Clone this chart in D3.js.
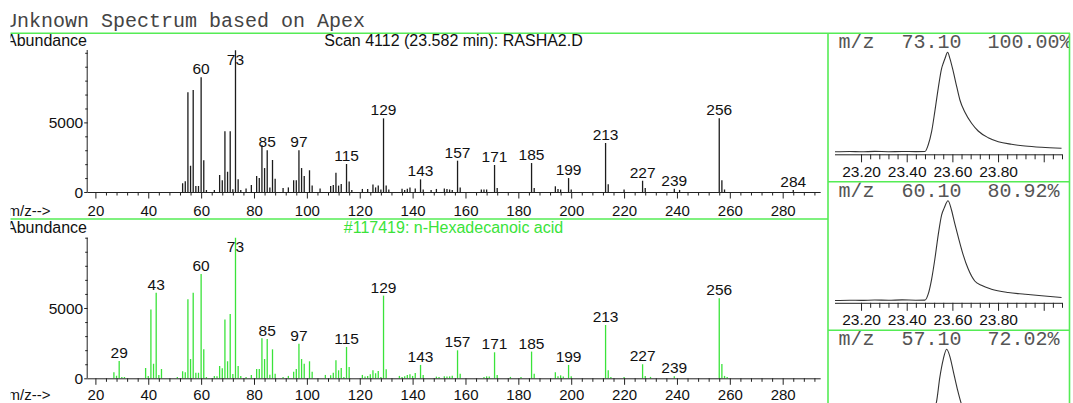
<!DOCTYPE html>
<html><head><meta charset="utf-8">
<script src="https://cdn.jsdelivr.net/npm/d3@7"></script>
<style>
html,body{margin:0;padding:0;background:#fff;overflow:hidden}
svg{display:block}
</style></head><body>
<svg id="c" width="1073" height="403"></svg>
<script>
// ---- Scan 4112 spectrum (m/z, abundance) ----
const scanMz = [53,54,55,56,57,58,59,60,61,62,65,67,68,69,70,71,72,73,74,75,77,79,81,82,83,84,85,86,87,88,91,93,95,96,97,98,99,101,102,105,109,110,111,112,113,115,116,117,121,123,125,126,127,128,129,130,131,136,137,138,139,141,143,144,147,149,152,153,154,155,157,158,166,167,168,171,172,185,186,194,195,196,199,200,213,214,220,227,228,239,241,256,257,258,284];
const scanAb = [625,770,7160,1890,7330,430,430,8240,2280,150,150,1220,840,4360,1460,4360,200,10180,910,150,260,500,1150,1000,3380,1720,2990,330,2300,960,290,330,840,840,2990,1720,1150,1560,460,260,430,500,1390,460,570,2010,750,150,220,220,540,330,460,180,5290,460,180,240,150,240,330,250,910,180,150,220,260,220,180,150,2250,330,180,180,180,1940,290,2080,290,410,220,180,1000,180,3520,550,180,810,290,240,150,5290,840,180,150];
const scanLabels = [60,73,85,97,115,129,143,157,171,185,199,213,227,239,256,284];

// ---- Library spectrum #117419 (m/z, abundance) ----
const libMz = [27,28,29,30,31,39,40,41,42,43,44,45,51,53,54,55,56,57,58,59,60,61,62,65,66,67,68,69,70,71,72,73,74,75,77,79,81,82,83,84,85,86,87,88,91,93,95,96,97,98,99,101,102,107,109,110,111,112,113,114,115,116,121,122,123,124,125,126,127,128,129,130,135,136,137,138,139,140,141,143,144,149,150,152,153,154,155,157,158,167,168,169,171,172,177,181,185,186,194,195,196,197,199,200,213,214,215,220,227,228,230,239,256,257,258,259];
const libAb = [430,190,1230,100,100,730,170,4900,1040,6090,240,660,100,500,430,5620,1370,6090,400,400,7420,2060,100,170,140,880,710,4190,1210,4570,310,9999,880,170,100,240,660,660,2840,1370,2800,260,2060,330,100,170,470,660,2460,1370,1040,1210,470,240,210,400,1280,570,730,100,2230,800,240,120,170,280,570,360,520,100,5880,640,170,100,140,240,280,170,380,950,240,120,100,140,120,140,190,1990,330,100,140,120,1850,240,100,100,1900,330,430,140,210,120,950,140,3790,570,100,100,1000,170,100,140,5690,1020,170,100];
const libLabels = [29,43,60,73,85,97,115,129,143,157,171,185,199,213,227,239,256];

// ---- axis ticks ----
const mzTicks = d3.range(20, 293, 4);
const mzLabelTicks = [20,40,60,80,100,120,140,160,180,200,220,240,260,280];
const abTicks = d3.range(0, 10001, 1000);
const abLabelTicks = [0, 5000];

// ---- extracted ion traces (retention time in min, relative response) ----
const ticIons = ["73.10", "60.10", "57.10"];
const ticPercents = ["100.00%", "80.92%", "72.02%"];
const tic73Time = [23.086,23.15,23.20,23.26,23.32,23.38,23.44,23.480,23.494,23.509,23.523,23.538,23.553,23.560,23.568,23.579,23.589,23.604,23.619,23.633,23.655,23.684,23.713,23.757,23.801,23.859,23.918,23.991,24.078];
const tic73Val  = [0.5,0.8,0.5,0.9,0.6,0.8,0.7,0.8,7.3,20.6,40.6,64.0,84.0,89.0,94.0,100,94.0,80.6,65.6,52.3,40.0,29.0,21.3,14.6,10.6,8.0,6.3,5.0,4.0];
const tic60Time = [23.086,23.15,23.20,23.26,23.32,23.38,23.44,23.480,23.494,23.509,23.523,23.538,23.553,23.564,23.581,23.596,23.610,23.625,23.647,23.669,23.698,23.727,23.771,23.844,23.918,23.991,24.078];
const tic60Val  = [0.3,0.6,0.4,0.8,0.5,0.9,0.6,0.7,6.6,21.5,41.3,66.0,86.0,92.7,100,90.8,77.6,64.4,46.2,32.0,19.8,15.5,11.6,8.3,6.6,5.0,3.3];
const tic57Time = [23.086,23.15,23.20,23.26,23.32,23.38,23.44,23.480,23.494,23.509,23.523,23.530,23.545,23.560,23.575,23.590,23.604,23.622,23.640,23.660,23.690,23.720,23.760,23.800,23.860,23.920,23.990,24.078];
const tic57Val  = [0.8,0.6,0.9,0.7,0.8,0.6,0.9,1.0,8,22,42,47,72,90,100,92,78,60,45,36,26,19,14,10.5,8,6.5,5.2,4.2];
const ticTicks = d3.range(0, 23).map(i => 23.2 + i * 0.04);

const W = 1073, H = 403;
const frameGreen = "#55ec55";
const barGreen = "#3ae33a";
const sans = "'Liberation Sans', Arial, sans-serif";
const mono = "'Liberation Mono', 'Courier New', monospace";

const svg = d3.select("#c");
const defs = svg.append("defs");
defs.append("clipPath").attr("id", "page")
  .append("rect").attr("x", 10.5).attr("y", 0).attr("width", W - 10.5).attr("height", H);
const root = svg.append("g").attr("clip-path", "url(#page)");

// header
root.append("text").attr("x", 5).attr("y", 26.7)
  .attr("font-family", mono).attr("font-size", 20).attr("fill", "#444")
  .text("Unknown Spectrum based on Apex");

// mass spectrum panel
function drawSpectrum(opt) {
  const g = root.append("g");
  const x = d3.scaleLinear().domain([17.09, 294.38]).range([87.7, 820.7]);
  const y = d3.scaleLinear().domain([0, opt.ymax]).range([opt.base, opt.top]);

  // bars
  g.append("g").selectAll("line").data(d3.zip(opt.mz, opt.ab)).join("line")
    .attr("x1", d => x(d[0])).attr("x2", d => x(d[0]))
    .attr("y1", y(0)).attr("y2", d => y(d[1]))
    .attr("stroke", opt.color).attr("stroke-width", 1.3);

  // x axis
  const gx = g.append("g").attr("transform", `translate(0,${opt.base})`)
    .call(d3.axisBottom(x).tickValues(mzTicks).tickSize(3.5).tickSizeOuter(0)
      .tickFormat(d => mzLabelTicks.includes(d) ? d : ""));
  gx.select(".domain").attr("stroke", "#222").attr("d", `M${x.range()[0]},0.5H${x.range()[1]}`);
  gx.selectAll(".tick line").attr("stroke", "#222").attr("y2", d => mzLabelTicks.includes(d) ? 6.5 : 3.5);
  gx.selectAll(".tick text").attr("font-family", sans).attr("font-size", 15)
    .attr("fill", "#111").attr("y", opt.labelDy).attr("dy", null);

  // y axis
  const gy = g.append("g").attr("transform", `translate(${x.range()[0]},0)`)
    .call(d3.axisLeft(y).tickValues(abTicks).tickSize(2.5).tickSizeOuter(0)
      .tickFormat(d => abLabelTicks.includes(d) ? d : ""));
  gy.select(".domain").attr("stroke", "#222").attr("d", `M-0.5,${opt.base}V${opt.top}`);
  gy.selectAll(".tick line").attr("stroke", "#222").attr("x2", d => abLabelTicks.includes(d) ? -3.5 : -2.5);
  gy.selectAll(".tick text").attr("font-family", sans).attr("font-size", 15.5)
    .attr("fill", "#111").attr("x", -4.5).attr("dy", "0.36em");

  // peak labels
  const abOf = new Map(d3.zip(opt.mz, opt.ab));
  g.append("g").selectAll("text").data(opt.labels).join("text")
    .attr("x", d => x(d))
    .attr("y", d => Math.max(y(abOf.get(d)) - 3, opt.top + 14.5))
    .attr("text-anchor", "middle").attr("font-family", sans).attr("font-size", 15.5)
    .attr("fill", "#111").text(d => d);

  // captions
  g.append("text").attr("x", 87).attr("y", opt.titleY).attr("text-anchor", "end")
    .attr("font-family", sans).attr("font-size", 16).attr("fill", "#111").text("Abundance");
  g.append("text").attr("x", 453.5).attr("y", opt.titleY).attr("text-anchor", "middle")
    .attr("font-family", sans).attr("font-size", 16).attr("fill", opt.titleColor).text(opt.title);
  g.append("text").attr("x", 7.5).attr("y", opt.base + opt.labelDy)
    .attr("font-family", sans).attr("font-size", 15).attr("fill", "#111").text("m/z-->");
}

drawSpectrum({mz: scanMz, ab: scanAb, labels: scanLabels, ymax: 10200, base: 192, top: 50, labelDy: 23.5,
  color: "#1c1c1c", title: "Scan 4112 (23.582 min): RASHA2.D", titleColor: "#111", titleY: 46});
drawSpectrum({mz: libMz, ab: libAb, labels: libLabels, ymax: 9999, base: 378.3, top: 237.7, labelDy: 22,
  color: barGreen, title: "#117419: n-Hexadecanoic acid", titleColor: barGreen, titleY: 233.3});

// extracted ion chromatogram panels
const traces = [[tic73Time, tic73Val], [tic60Time, tic60Val], [tic57Time, tic57Val]];
const panelH = 148.5, panelTop0 = 33.3;
traces.forEach((tr, i) => {
  const top = panelTop0 + i * panelH;
  const cid = "pan" + i;
  defs.append("clipPath").attr("id", cid).append("rect")
    .attr("x", 828.8).attr("y", top + 0.8).attr("width", 1069.2 - 828.8).attr("height", panelH - 1.6);
  const g = root.append("g").attr("clip-path", `url(#${cid})`);
  const tx = d3.scaleLinear().domain([23.086, 24.08]).range([835, 1062]);
  const ty = d3.scaleLinear().domain([0, d3.max(tr[1])]).range([top + 119, top + 19]);
  const axisY = top + 121;

  g.append("text").attr("x", 838.5).attr("y", top + 15).attr("font-family", mono)
    .attr("font-size", 20).attr("fill", "#555").text("m/z");
  g.append("text").attr("x", 901.5).attr("y", top + 15).attr("font-family", mono)
    .attr("font-size", 20).attr("fill", "#555").text(ticIons[i]);
  g.append("text").attr("x", 987.5).attr("y", top + 15).attr("font-family", mono)
    .attr("font-size", 20).attr("fill", "#555").text(ticPercents[i]);

  // time axis (only when the panel's axis falls inside the page)
  if (axisY < H) {
    const ga = g.append("g").attr("transform", `translate(0,${axisY})`)
      .call(d3.axisBottom(tx).tickValues(ticTicks).tickSize(5).tickSizeOuter(0)
        .tickFormat((d, k) => (k % 5 === 0 && k < 20) ? d.toFixed(2) : ""));
    ga.select(".domain").attr("stroke", "#222").attr("d", `M835,0.5H1062`);
    ga.selectAll(".tick line").attr("stroke", "#222").attr("y2", (d, k) => k % 5 === 0 ? 8 : 5);
    ga.selectAll(".tick text").attr("font-family", sans).attr("font-size", 15.5)
      .attr("fill", "#111").attr("y", 22.7).attr("dy", null);
  }

  g.append("path").datum(d3.zip(tr[0], tr[1]))
    .attr("fill", "none").attr("stroke", "#333").attr("stroke-width", 1.1)
    .attr("d", d3.line().x(d => tx(d[0])).y(d => ty(d[1])).curve(d3.curveMonotoneX));
});

// frame lines
const frame = root.append("g").attr("stroke", frameGreen).attr("stroke-width", 1.6).attr("fill", "none");
frame.append("line").attr("x1", 0).attr("x2", 1070).attr("y1", 33.3).attr("y2", 33.3);
frame.append("line").attr("x1", 0).attr("x2", 828).attr("y1", 219).attr("y2", 219);
frame.append("line").attr("x1", 828).attr("x2", 828).attr("y1", 33.3).attr("y2", H);
frame.append("line").attr("x1", 1069.5).attr("x2", 1069.5).attr("y1", 33.3).attr("y2", H);
[1, 2].forEach(k => frame.append("line").attr("x1", 828).attr("x2", 1069.5)
  .attr("y1", panelTop0 + k * panelH).attr("y2", panelTop0 + k * panelH));
</script>
</body></html>
